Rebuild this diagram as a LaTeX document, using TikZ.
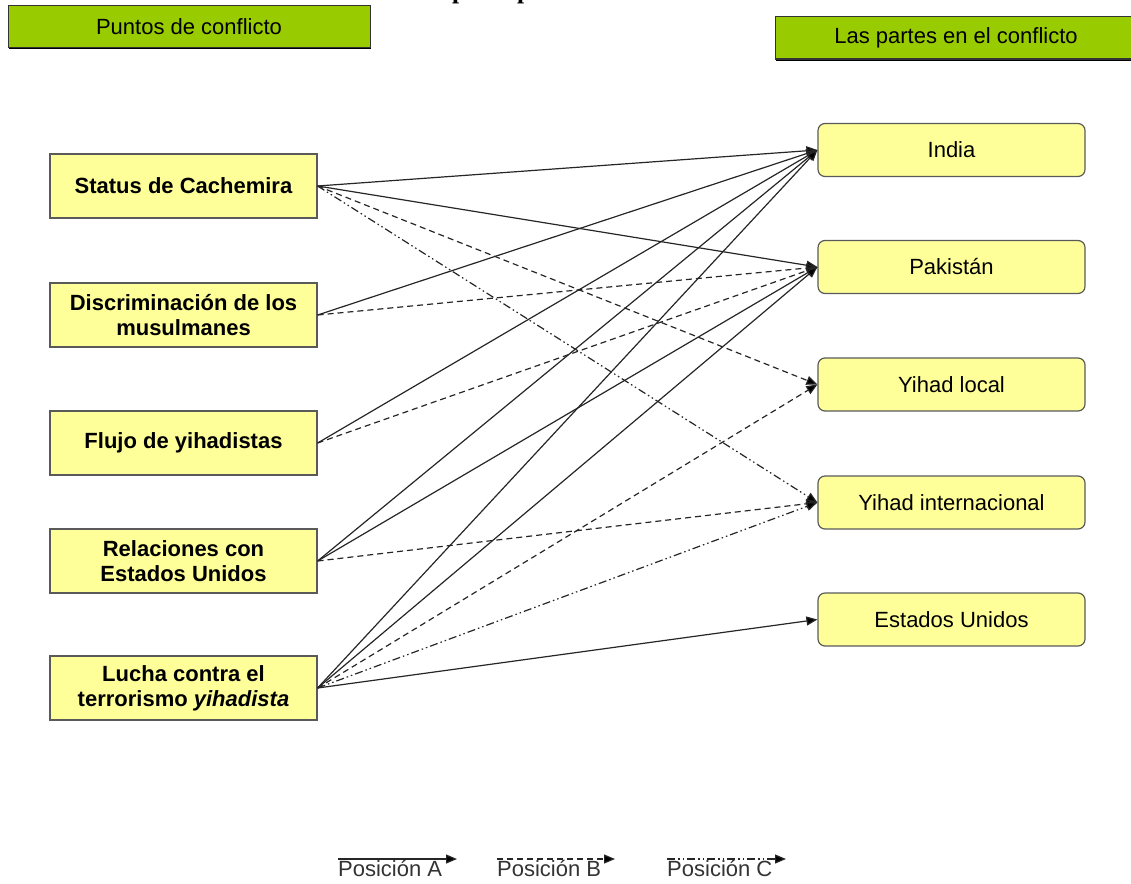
\documentclass[tikz,border=0pt]{standalone}
\usepackage{fontspec}
\setmainfont{Liberation Sans}
\newfontfamily\titlefont{Liberation Serif}
\usetikzlibrary{arrows.meta,shadows}
\definecolor{ybox}{HTML}{FFFF99}
\definecolor{gbox}{HTML}{99CC00}
\definecolor{edgec}{HTML}{262626}
\definecolor{bordc}{HTML}{5A5A5A}
\begin{document}
\begin{tikzpicture}[x=1pt,y=-1pt,
  every node/.style={font=\fontsize{22}{25}\selectfont, inner sep=0pt},
  leftbox/.style={draw=bordc, line width=1.2pt, fill=ybox, minimum width=267pt, minimum height=64pt, align=center, font=\fontsize{22}{25}\selectfont\bfseries},
  rightbox/.style={draw=bordc, line width=1.2pt, fill=ybox, rounded corners=7pt, minimum width=267pt, minimum height=53pt},
  headbox/.style={draw=black!80, line width=1pt, fill=gbox, minimum height=42pt, minimum width=362pt, drop shadow={shadow xshift=1.2pt, shadow yshift=-1.5pt, fill=black, opacity=1}},
  conn/.style={draw=edgec, line width=1.2pt, -{Triangle[length=11pt,width=9pt,fill=black]}},
  posA/.style={conn},
  posB/.style={conn, dash pattern=on 6pt off 4pt},
  posC/.style={conn, dash pattern=on 8pt off 3pt on 1.5pt off 3pt on 1.5pt off 3pt},
]
\useasboundingbox (0,0) rectangle (1131,883);
\clip (0,0) rectangle (1131,883);

\node[anchor=base west, font=\titlefont\fontsize{25.4}{28}\selectfont\bfseries] (title) at (452,-1.2) {principales};

\node[headbox] (hl) at (189,27) {Puntos de conflicto};
\node[headbox] (hr) at (956,38) {Las partes en el conflicto};

\node[leftbox] (s1) at (183.5,186) {Status de Cachemira};
\node[leftbox] (s2) at (183.5,315) {Discriminación de los\\musulmanes};
\node[leftbox] (s3) at (183.5,443) {Flujo de yihadistas};
\node[leftbox] (s4) at (183.5,561) {Relaciones con\\Estados Unidos};
\node[leftbox] (s5) at (183.5,688) {Lucha contra el\\terrorismo \textit{yihadista}};

\node[rightbox] (p1) at (951.5,150) {India};
\node[rightbox] (p2) at (951.5,267) {Pakistán};
\node[rightbox] (p3) at (951.5,384.5) {Yihad local};
\node[rightbox] (p4) at (951.5,502.5) {Yihad internacional};
\node[rightbox] (p5) at (951.5,619.5) {Estados Unidos};

% Status de Cachemira
\draw[posA] (s1.east) -- (p1.west);
\draw[posA] (s1.east) -- (p2.west);
\draw[posB] (s1.east) -- (p3.west);
\draw[posC] (s1.east) -- (p4.west);
% Discriminacion
\draw[posA] (s2.east) -- (p1.west);
\draw[posB] (s2.east) -- (p2.west);
% Flujo
\draw[posA] (s3.east) -- (p1.west);
\draw[posB] (s3.east) -- (p2.west);
% Relaciones
\draw[posA] (s4.east) -- (p1.west);
\draw[posA] (s4.east) -- (p2.west);
\draw[posB] (s4.east) -- (p4.west);
% Lucha
\draw[posA] (s5.east) -- (p1.west);
\draw[posA] (s5.east) -- (p2.west);
\draw[posB] (s5.east) -- (p3.west);
\draw[posC] (s5.east) -- (p4.west);
\draw[posA] (s5.east) -- (p5.west);

% Legend
\coordinate (a1) at (338,859); \coordinate (a2) at (457,859);
\coordinate (b1) at (497,859); \coordinate (b2) at (615,859);
\coordinate (c1) at (667,859); \coordinate (c2) at (786,859);
\draw[posA] (a1) -- (a2);
\draw[posB] (b1) -- (b2);
\draw[posC] (c1) -- (c2);
\node[anchor=base west, text=black!80] (la) at (338,876) {Posición A};
\node[anchor=base west, text=black!80] (lb) at (497,876) {Posición B};
\node[anchor=base west, text=black!80] (lc) at (667,876) {Posición C};
\end{tikzpicture}
\end{document}
